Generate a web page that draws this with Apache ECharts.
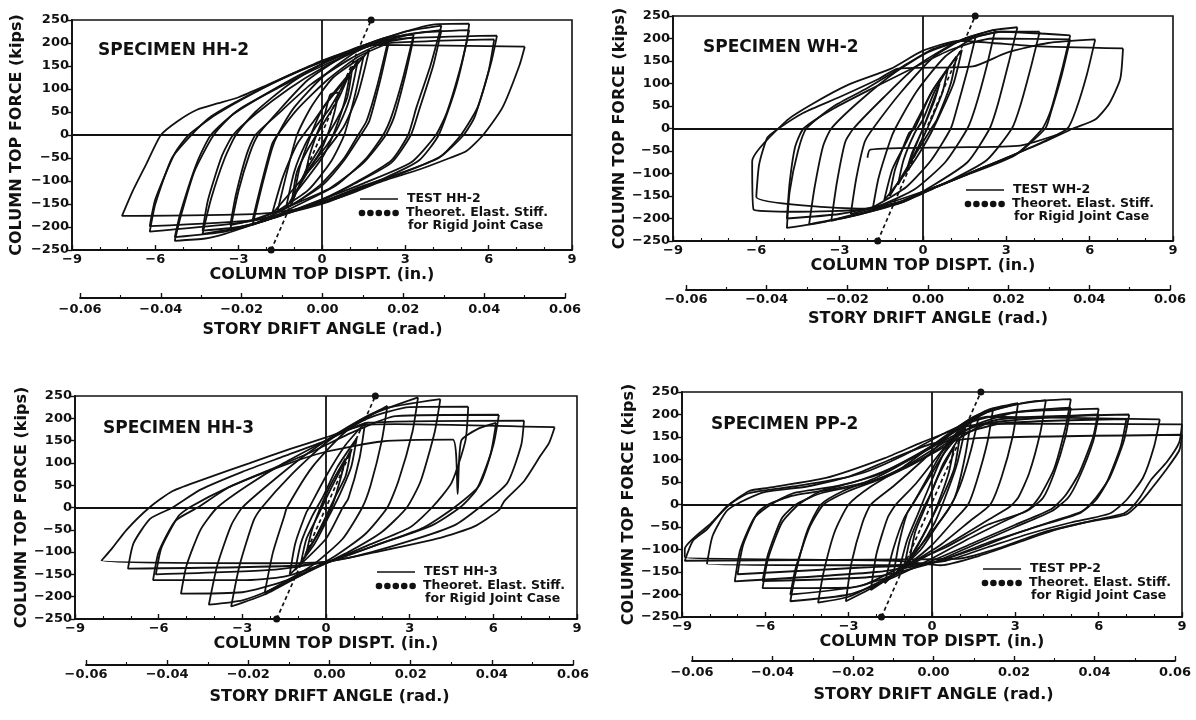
<!DOCTYPE html>
<html><head><meta charset="utf-8">
<script src="https://cdn.jsdelivr.net/npm/echarts@6/dist/echarts.min.js"></script>
<style>html,body{margin:0;padding:0;background:#fff}#c{width:1196px;height:720px}</style>
</head><body><div id="c"></div>
<script>
// ---------- DATA ----------
const disptTicks = [-9, -6, -3, 0, 3, 6, 9];
const disptLabels = ['−9', '−6', '−3', '0', '3', '6', '9'];
const forceTicks = [-250, -200, -150, -100, -50, 0, 50, 100, 150, 200, 250];
const forceLabels = ['−250', '−200', '−150', '−100', '−50', '0', '50', '100', '150', '200', '250'];
const driftTicks = [-0.06, -0.04, -0.02, 0, 0.02, 0.04, 0.06];
const driftLabels = ['−0.06', '−0.04', '−0.02', '0.00', '0.02', '0.04', '0.06'];
const specimens = ['HH-2', 'WH-2', 'HH-3', 'PP-2'];

const hh2Loops = [
 [[0.6,92],[0.45,50],[0.2,0],[-0.1,-40],[-0.6,-85],[-0.45,-45],[-0.2,0],[0.1,45],[0.3,88],[0.6,92]],
 [[1.0,130],[0.8,70],[0.4,0],[0.0,-50],[-1.0,-130],[-0.8,-70],[-0.4,0],[0.0,55],[1.0,130]],
 [[1.1,150],[0.9,80],[0.5,30],[0.0,-20],[-0.6,-80],[-1.1,-150],[-0.9,-80],[-0.5,-30],[0.0,20],[0.6,80],[1.1,150]],
 [[1.3,165],[1.0,80],[0.6,20],[0.2,-20],[-0.3,-60],[-1.3,-160],[-1.0,-80],[-0.6,-20],[-0.2,20],[0.3,60],[1.3,165]],
 [[1.5,172],[1.2,90],[0.8,0],[0.3,-60],[-0.5,-120],[-1.6,-165],[-1.3,-90],[-0.9,0],[-0.4,60],[0.4,125],[1.5,172]],
 [[1.7,185],[1.3,90],[0.8,20],[0.2,-30],[-0.5,-80],[-1.8,-172],[-1.4,-90],[-0.9,-20],[-0.3,30],[0.4,90],[1.7,185]],
 [[2.4,210],[2.0,110],[1.6,30],[1.3,0],[0.8,-50],[0.0,-105],[-1.0,-150],[-2.5,-195],[-2.2,-120],[-1.8,-30],[-1.6,0],[-1.0,60],[0.0,125],[1.2,180],[2.4,210]],
 [[2.4,200],[2.1,120],[1.7,30],[1.4,0],[0.8,-55],[0.0,-110],[-1.2,-155],[-2.5,-185],[-2.2,-110],[-1.8,-20],[-1.6,0],[-0.9,55],[0.2,120],[1.3,170],[2.4,200]],
 [[3.3,218],[2.9,120],[2.5,40],[2.2,0],[1.6,-50],[0.5,-110],[-0.8,-150],[-2.0,-185],[-3.3,-205],[-3.0,-120],[-2.6,-40],[-2.3,0],[-1.6,50],[-0.5,120],[1.0,180],[2.2,210],[3.3,218]],
 [[3.3,212],[3.0,130],[2.6,40],[2.3,0],[1.5,-60],[0.3,-115],[-1.0,-150],[-2.2,-180],[-3.3,-196],[-3.1,-130],[-2.7,-40],[-2.4,0],[-1.6,45],[-0.4,110],[1.0,165],[2.2,200],[3.3,212]],
 [[4.3,238],[3.9,150],[3.4,60],[3.1,0],[2.5,-55],[1.3,-100],[0.0,-140],[-1.5,-175],[-2.8,-200],[-4.3,-215],[-4.0,-140],[-3.5,-50],[-3.1,0],[-2.4,50],[-1.2,110],[0.0,155],[1.5,195],[3.0,225],[4.3,238]],
 [[4.3,228],[4.0,150],[3.5,55],[3.2,0],[2.5,-60],[1.2,-105],[0.0,-142],[-1.6,-178],[-3.0,-200],[-4.3,-208],[-4.1,-140],[-3.6,-45],[-3.2,0],[-2.4,45],[-1.2,100],[0.0,145],[1.5,190],[3.0,218],[4.3,228]],
 [[5.3,242],[5.2,200],[4.8,100],[4.2,0],[3.5,-55],[2.2,-95],[0.5,-135],[-1.0,-165],[-2.5,-195],[-3.5,-215],[-4.2,-225],[-5.3,-230],[-5.1,-180],[-4.6,-80],[-3.9,0],[-3.2,45],[-2.0,90],[-0.5,140],[1.0,180],[2.5,215],[4.0,240],[5.3,242]],
 [[5.3,228],[5.0,150],[4.5,50],[4.1,0],[3.2,-60],[1.5,-105],[0.0,-140],[-2.0,-185],[-3.5,-210],[-5.3,-222],[-5.1,-170],[-4.5,-60],[-4.0,0],[-3.0,55],[-1.5,105],[0.0,150],[2.0,200],[3.5,222],[5.3,228]],
 [[6.3,216],[6.1,160],[5.6,60],[5.0,0],[4.3,-45],[3.0,-80],[1.5,-110],[0.0,-145],[-2.0,-180],[-3.5,-195],[-6.2,-210],[-6.0,-150],[-5.4,-50],[-4.7,0],[-4.0,40],[-3.0,75],[-1.5,120],[0.0,160],[1.5,195],[3.0,210],[6.3,216]],
 [[6.2,208],[6.0,140],[5.5,40],[5.1,0],[4.2,-50],[2.5,-90],[0.0,-150],[-2.5,-185],[-6.2,-198],[-6.0,-140],[-5.3,-40],[-4.8,0],[-3.8,45],[-2.5,90],[-1.0,135],[0.5,170],[2.0,198],[6.2,208]],
 [[7.3,192],[7.1,150],[6.5,60],[5.8,0],[5.2,-35],[4.6,-50],[3.5,-75],[2.2,-100],[1.0,-128],[0.0,-148],[-1.0,-162],[-2.5,-172],[-7.2,-176],[-6.8,-120],[-6.3,-60],[-5.8,0],[-5.2,30],[-4.5,55],[-3.8,68],[-3.0,82],[-2.0,108],[-1.0,135],[0.0,162],[1.0,182],[2.0,196],[7.3,192]]
];

const wh2Loops = [
 [[0.6,100],[0.4,60],[0.0,0],[-0.3,-45],[-0.6,-95],[-0.4,-55],[0.0,0],[0.3,50],[0.6,100]],
 [[0.9,135],[0.7,80],[0.3,20],[0.0,-20],[-0.5,-80],[-0.9,-125],[-0.7,-70],[-0.3,-10],[0.0,20],[0.4,80],[0.9,135]],
 [[1.2,160],[1.0,100],[0.5,20],[0.3,0],[-0.4,-70],[-1.2,-150],[-1.0,-90],[-0.5,-10],[-0.3,0],[0.3,80],[1.2,160]],
 [[1.4,175],[1.1,100],[0.6,30],[0.2,-20],[-0.4,-80],[-1.4,-160],[-1.1,-90],[-0.6,-30],[-0.2,20],[0.4,90],[1.4,175]],
 [[1.9,205],[1.6,130],[1.2,40],[1.0,0],[0.3,-70],[-0.6,-130],[-1.8,-175],[-1.6,-110],[-1.2,-30],[-1.0,0],[-0.2,85],[0.8,160],[1.9,205]],
 [[2.6,220],[2.3,140],[1.9,50],[1.6,0],[0.8,-75],[-0.3,-135],[-1.5,-170],[-2.6,-190],[-2.4,-110],[-2.1,-30],[-1.8,0],[-0.8,80],[0.4,160],[1.5,200],[2.6,220]],
 [[3.4,225],[3.1,150],[2.7,55],[2.4,0],[1.6,-75],[0.4,-125],[-0.8,-165],[-2.2,-190],[-3.3,-205],[-3.1,-120],[-2.8,-30],[-2.5,0],[-1.4,70],[-0.2,140],[1.3,195],[2.5,218],[3.4,225]],
 [[4.2,215],[3.9,140],[3.5,50],[3.2,0],[2.3,-70],[1.0,-115],[0.0,-141],[-1.2,-172],[-2.6,-195],[-4.1,-213],[-3.9,-130],[-3.6,-40],[-3.3,0],[-2.3,60],[-1.0,125],[0.2,170],[1.5,197],[2.8,215],[4.2,215]],
 [[5.3,207],[5.0,130],[4.6,40],[4.3,0],[3.4,-55],[2.0,-91],[0.6,-127],[-0.7,-163],[-2.1,-185],[-3.5,-207],[-4.9,-221],[-4.8,-140],[-4.5,-50],[-4.2,0],[-3.2,50],[-2.0,90],[-0.8,135],[0.3,175],[1.5,197],[2.8,215],[5.3,207]],
 [[5.3,198],[5.0,120],[4.6,35],[4.4,0],[3.3,-60],[1.5,-105],[0.0,-140],[-1.5,-170],[-3.0,-190],[-4.9,-200],[-4.8,-120],[-4.6,-40],[-4.3,0],[-3.2,45],[-1.8,90],[-0.5,130],[1.0,175],[2.5,200],[5.3,198]],
 [[6.2,198],[5.9,120],[5.5,40],[5.2,0],[4.3,-30],[3.2,-60],[2.0,-91],[0.6,-127],[-0.7,-160],[-2.1,-178],[-6.0,-152],[-5.9,-80],[-5.6,-20],[-5.2,0],[-4.3,35],[-3.0,70],[-1.6,110],[-0.9,133],[1.8,138],[3.0,168],[4.5,190],[6.2,198]],
 [[7.2,178],[7.1,110],[6.7,55],[6.2,20],[5.4,0],[4.5,-26],[3.4,-55],[2.0,-91],[0.6,-127],[0.0,-141],[-0.7,-163],[-2.1,-180],[-4.5,-185],[-6.1,-180],[-6.15,-73],[-4.9,18],[-4.0,54],[-2.7,97],[-1.15,133],[0.0,173],[1.33,195],[2.5,190],[4.0,183],[7.2,178]],
 [[5.0,-10],[3.5,-38],[1.0,-42],[-1.9,-47],[-2.0,-65]]
];

const hh3Loops = [
 [[0.7,110],[0.5,60],[0.2,0],[-0.2,-50],[-0.7,-100],[-0.5,-50],[-0.2,0],[0.2,55],[0.7,110]],
 [[0.9,130],[0.7,70],[0.3,20],[0.0,-20],[-0.4,-70],[-0.9,-125],[-0.7,-70],[-0.3,-20],[0.0,20],[0.4,70],[0.9,130]],
 [[1.1,155],[0.9,90],[0.5,30],[0.1,-20],[-0.4,-80],[-1.1,-140],[-0.9,-80],[-0.5,-20],[-0.1,25],[0.4,90],[1.1,155]],
 [[1.4,190],[1.2,110],[0.8,20],[0.6,0],[0.0,-70],[-1.3,-150],[-1.1,-80],[-0.7,-10],[-0.6,0],[0.0,70],[0.7,140],[1.4,190]],
 [[2.2,228],[2.0,150],[1.6,50],[1.3,0],[0.6,-70],[-0.5,-130],[-2.2,-192],[-1.9,-100],[-1.5,-20],[-1.4,0],[-0.5,90],[0.7,170],[2.2,228]],
 [[3.3,247],[3.1,170],[2.6,60],[2.2,0],[1.4,-60],[0.3,-110],[-1.0,-155],[-2.2,-195],[-3.4,-222],[-3.1,-130],[-2.6,-30],[-2.3,0],[-1.3,70],[0.0,145],[1.5,205],[3.3,247]],
 [[4.1,243],[3.9,170],[3.4,60],[2.9,0],[2.0,-55],[0.8,-100],[-0.5,-140],[-2.0,-185],[-3.0,-208],[-4.2,-218],[-3.9,-130],[-3.4,-40],[-3.0,0],[-2.0,55],[-0.8,115],[0.5,170],[2.0,220],[4.1,243]],
 [[5.1,226],[5.0,150],[4.5,55],[3.8,0],[3.0,-45],[1.5,-85],[0.0,-125],[-1.5,-165],[-3.0,-190],[-5.2,-193],[-5.0,-130],[-4.5,-50],[-3.9,0],[-2.8,50],[-1.5,100],[0.0,150],[1.5,200],[3.0,225],[5.1,226]],
 [[6.2,208],[6.0,140],[5.5,50],[4.6,0],[3.5,-45],[2.0,-80],[0.0,-125],[-1.5,-155],[-3.0,-163],[-6.2,-163],[-6.0,-100],[-5.4,-30],[-4.6,0],[-3.5,45],[-2.0,85],[-0.5,125],[1.0,170],[2.5,205],[6.2,208]],
 [[6.1,190],[5.9,120],[5.4,40],[4.8,0],[3.8,-40],[2.0,-80],[0.0,-122],[-2.0,-140],[-6.1,-150],[-5.9,-90],[-5.3,-20],[-4.9,0],[-3.5,45],[-1.5,95],[0.0,125],[2.0,148],[4.55,152],[4.72,30],[4.85,150],[5.5,178],[6.1,190]],
 [[7.1,195],[7.0,140],[6.5,55],[5.5,0],[4.6,-40],[3.0,-75],[1.0,-110],[-1.0,-130],[-7.1,-137],[-6.9,-80],[-6.3,-25],[-5.5,0],[-4.5,40],[-3.0,80],[-1.5,115],[0.0,150],[1.5,190],[7.1,195]],
 [[8.2,180],[8.0,145],[7.7,117],[7.1,59],[6.4,15],[6.2,-6],[5.3,-43],[4.1,-68],[2.0,-97],[0.0,-122],[-2.0,-125],[-8.05,-119],[-7.7,-94],[-7.15,-50],[-6.33,0],[-5.5,37],[-4.27,66],[-2.76,99],[-1.25,132],[0.0,157],[1.36,185],[2.5,187],[8.2,180]]
];

const pp2Loops = [
 [[0.8,130],[0.6,70],[0.2,0],[-0.2,-55],[-0.8,-120],[-0.6,-60],[-0.2,0],[0.2,60],[0.8,130]],
 [[1.0,150],[0.8,80],[0.4,20],[0.0,-30],[-0.5,-90],[-1.0,-140],[-0.8,-80],[-0.4,-20],[0.0,30],[0.4,90],[1.0,150]],
 [[1.2,170],[0.9,90],[0.5,20],[0.1,-40],[-0.5,-100],[-1.2,-150],[-0.9,-80],[-0.5,-20],[-0.1,40],[0.4,110],[1.2,170]],
 [[1.4,185],[1.2,110],[0.9,30],[0.7,0],[0.2,-45],[-0.4,-100],[-1.4,-160],[-1.2,-90],[-0.9,-20],[-0.7,0],[-0.2,55],[0.4,120],[1.4,185]],
 [[1.7,200],[1.4,120],[1.0,40],[0.6,-10],[0.0,-60],[-0.8,-120],[-1.7,-175],[-1.4,-100],[-1.0,-30],[-0.6,10],[0.0,70],[0.8,150],[1.7,200]],
 [[2.2,213],[2.0,140],[1.6,50],[1.3,0],[0.8,-35],[0.0,-90],[-1.0,-140],[-2.2,-190],[-2.0,-110],[-1.6,-30],[-1.3,0],[-0.6,45],[0.3,115],[1.2,180],[2.2,213]],
 [[3.1,225],[2.9,150],[2.5,60],[2.1,0],[1.4,-35],[0.3,-90],[-1.0,-140],[-2.0,-180],[-3.1,-215],[-2.9,-130],[-2.5,-40],[-2.2,0],[-1.4,40],[-0.3,100],[1.0,175],[2.0,210],[3.1,225]],
 [[4.1,232],[3.9,160],[3.5,70],[3.1,15],[2.8,-5],[2.0,-35],[0.8,-80],[-0.5,-125],[-2.0,-175],[-3.0,-205],[-4.1,-218],[-3.9,-150],[-3.5,-60],[-3.0,0],[-2.2,40],[-1.0,85],[0.2,140],[1.5,195],[2.8,220],[4.1,232]],
 [[5.0,234],[4.8,170],[4.4,80],[3.9,20],[3.5,-10],[2.5,-40],[1.2,-80],[0.0,-120],[-1.5,-165],[-3.0,-200],[-5.1,-215],[-4.9,-150],[-4.5,-60],[-4.0,0],[-3.2,30],[-2.0,60],[-0.8,100],[0.5,150],[2.0,205],[3.5,228],[5.0,234]],
 [[5.0,215],[4.8,150],[4.4,70],[4.0,15],[3.4,-15],[2.0,-45],[0.5,-95],[-1.0,-135],[-2.5,-180],[-5.1,-200],[-4.9,-140],[-4.4,-50],[-3.9,0],[-3.0,30],[-1.5,65],[0.0,115],[1.5,175],[3.0,205],[5.0,215]],
 [[6.0,213],[5.8,150],[5.3,70],[4.8,20],[4.3,-10],[3.0,-45],[1.5,-85],[0.0,-125],[-1.5,-160],[-3.0,-185],[-6.1,-186],[-5.9,-120],[-5.4,-40],[-4.8,0],[-4.0,30],[-2.8,50],[-1.5,80],[0.0,130],[1.5,185],[3.0,205],[6.0,213]],
 [[6.0,200],[5.8,140],[5.3,60],[4.9,15],[4.3,-15],[3.0,-50],[1.5,-90],[0.0,-130],[-2.0,-160],[-6.1,-170],[-5.9,-110],[-5.4,-30],[-4.9,0],[-4.0,25],[-2.5,45],[-1.0,80],[0.5,130],[2.0,180],[6.0,200]],
 [[7.1,200],[6.9,140],[6.4,60],[5.9,15],[5.4,-15],[4.2,-40],[3.0,-65],[1.5,-100],[0.0,-130],[-2.0,-150],[-7.1,-171],[-6.9,-100],[-6.4,-30],[-5.8,0],[-5.0,25],[-3.5,40],[-2.0,65],[-0.5,110],[1.0,160],[2.5,190],[7.1,200]],
 [[7.0,190],[6.8,130],[6.3,50],[5.9,10],[5.3,-20],[4.0,-45],[2.0,-85],[0.0,-130],[-2.5,-140],[-7.0,-155],[-6.8,-90],[-6.3,-20],[-5.9,0],[-5.0,20],[-3.5,35],[-2.0,55],[-0.8,90],[0.8,150],[2.5,180],[7.0,190]],
 [[8.2,189],[8.0,130],[7.6,60],[7.0,10],[6.4,-20],[5.0,-40],[3.5,-65],[2.0,-95],[0.5,-125],[-1.5,-135],[-8.1,-132],[-7.9,-70],[-7.4,-15],[-6.9,5],[-6.0,28],[-4.5,40],[-2.5,70],[-1.0,110],[0.5,160],[2.0,195],[8.2,189]],
 [[9.0,178],[8.9,138],[8.46,95],[7.9,56],[7.49,16],[7.2,-6],[6.9,-20],[5.84,-35],[4.46,-56],[3.08,-85],[1.7,-114],[0.32,-135],[-1.3,-125],[-8.9,-117],[-8.9,-99],[-7.96,-42],[-7.27,1],[-6.58,30],[-5.9,37],[-3.82,59],[-1.75,102],[-0.37,138],[1.0,170],[2.0,180],[9.0,178]],
 [[9.0,155],[8.9,120],[8.4,75],[7.9,35],[7.5,5],[7.0,-22],[5.5,-40],[4.0,-62],[2.5,-95],[1.0,-120],[-1.0,-122],[-8.9,-125],[-8.6,-80],[-8.1,-55],[-7.4,-5],[-6.6,25],[-5.0,40],[-3.0,62],[-1.5,100],[0.0,135],[1.8,148],[9.0,155]]
];

const hh2Theory = [[-1.83, -250], [1.77, 250]];
const wh2Theory = [[-1.63, -250], [1.88, 250]];
const hh3Theory = [[-1.77, -250], [1.77, 250]];
const pp2Theory = [[-1.82, -250], [1.76, 250]];

// ---------- LAYOUT ----------
const FONT = "'DejaVu Sans', sans-serif";
const INK = '#111';
const panels = [
 {loops: hh2Loops, theory: hh2Theory, g: {left: 72, top: 20, width: 500, height: 230}, xGap: 16, yGap: 47,
  d: {left: 80, top: 297, width: 485}, dMargin: 5, dGap: 24, spec: [98, 51], leg: [360, 199]},
 {loops: wh2Loops, theory: wh2Theory, g: {left: 673, top: 16, width: 500, height: 225}, xGap: 15, yGap: 37,
  d: {left: 686, top: 289, width: 484}, dMargin: 3, dGap: 21, spec: [703, 48], leg: [966, 190]},
 {loops: hh3Loops, theory: hh3Theory, g: {left: 75, top: 396, width: 502, height: 223}, xGap: 13, yGap: 44,
  d: {left: 86, top: 664, width: 487}, dMargin: 3, dGap: 24, spec: [103, 429], leg: [377, 572]},
 {loops: pp2Loops, theory: pp2Theory, g: {left: 682, top: 392, width: 500, height: 225}, xGap: 13, yGap: 42,
  d: {left: 692, top: 660, width: 483}, dMargin: 5, dGap: 26, spec: [711, 425], leg: [983, 569]}
];

const lab = {color: INK, fontSize: 13, fontWeight: 'bold', fontFamily: FONT};
const ttl = {color: INK, fontSize: 16, fontWeight: 'bold', fontFamily: FONT};
const option = {animation: false, backgroundColor: '#fff', grid: [], xAxis: [], yAxis: [], series: [], graphic: []};

panels.forEach((p, i) => {
  const gi = i * 2, di = i * 2 + 1;
  option.grid.push(Object.assign({show: true, borderColor: INK, borderWidth: 1.6, backgroundColor: 'transparent'}, p.g));
  option.grid.push({left: p.d.left, top: p.d.top, width: p.d.width, height: 1, show: false});
  option.xAxis.push({
    gridIndex: gi, type: 'value', min: -9, max: 9, interval: 3, position: 'bottom',
    axisLine: {show: true, onZero: false, lineStyle: {color: INK, width: 1.8}},
    axisTick: {show: true, inside: true, length: 5, lineStyle: {color: INK, width: 1.4}},
    minorTick: {show: true, splitNumber: 3, length: 3, lineStyle: {color: INK, width: 1.1}},
    splitLine: {show: false},
    axisLabel: Object.assign({margin: 3, formatter: v => disptLabels[disptTicks.indexOf(Math.round(v))]}, lab),
    name: 'COLUMN TOP DISPT. (in.)', nameLocation: 'middle', nameGap: p.xGap, nameTextStyle: ttl
  });
  option.yAxis.push({
    gridIndex: gi, type: 'value', min: -250, max: 250, interval: 50,
    axisLine: {show: true, onZero: false, lineStyle: {color: INK, width: 1.8}},
    axisTick: {show: true, inside: false, length: 4, lineStyle: {color: INK, width: 1.4}},
    splitLine: {show: false},
    axisLabel: Object.assign({margin: 3, formatter: v => forceLabels[forceTicks.indexOf(Math.round(v))]}, lab),
    name: 'COLUMN TOP FORCE (kips)', nameLocation: 'middle', nameRotate: 90, nameGap: p.yGap, nameTextStyle: ttl
  });
  option.xAxis.push({
    gridIndex: di, type: 'value', min: -0.06, max: 0.06, interval: 0.02, position: 'bottom',
    axisLine: {show: true, onZero: false, lineStyle: {color: INK, width: 1.8}},
    axisTick: {show: true, inside: true, length: 5, lineStyle: {color: INK, width: 1.4}},
    minorTick: {show: true, splitNumber: 2, length: 3, lineStyle: {color: INK, width: 1.1}},
    splitLine: {show: false},
    axisLabel: Object.assign({margin: p.dMargin, formatter: v => driftLabels[Math.round((v + 0.06) / 0.02)]}, lab),
    name: 'STORY DRIFT ANGLE (rad.)', nameLocation: 'middle', nameGap: p.dGap, nameTextStyle: ttl
  });
  option.yAxis.push({gridIndex: di, type: 'value', min: 0, max: 1, show: false});

  p.loops.forEach(loop => {
    option.series.push({
      type: 'line', xAxisIndex: gi, yAxisIndex: gi, data: loop, symbol: 'none', showSymbol: false,
      smooth: 0.2, silent: true, lineStyle: {color: INK, width: 1.8}, z: 3
    });
  });
  option.series.push({
    type: 'line', xAxisIndex: gi, yAxisIndex: gi, data: p.theory, symbol: 'circle', symbolSize: 7,
    showSymbol: true, clip: false, silent: true, itemStyle: {color: INK},
    lineStyle: {color: INK, width: 1.7, type: [4, 3]}, z: 2,
    markLine: {silent: true, symbol: ['none', 'none'], label: {show: false}, animation: false,
      lineStyle: {color: INK, type: 'solid', width: 1.8}, data: [{yAxis: 0}, {xAxis: 0}]}
  });

  // specimen label
  option.graphic.push({type: 'text', x: p.spec[0], y: p.spec[1],
    style: {text: 'SPECIMEN ' + specimens[i], fill: INK, font: 'bold 17px ' + FONT, verticalAlign: 'middle'}});
  // legend
  const lx = p.leg[0], ly = p.leg[1];
  const lf = 'bold 12.5px ' + FONT;
  option.graphic.push({type: 'line', shape: {x1: lx, y1: ly, x2: lx + 38, y2: ly}, style: {stroke: INK, lineWidth: 1.6}});
  option.graphic.push({type: 'text', x: lx + 47, y: ly, style: {text: 'TEST ' + specimens[i], fill: INK, font: lf, verticalAlign: 'middle'}});
  for (let k = 0; k < 5; k++) {
    option.graphic.push({type: 'circle', shape: {cx: lx + 2 + k * 8.4, cy: ly + 14, r: 3.3}, style: {fill: INK}});
  }
  option.graphic.push({type: 'text', x: lx + 46, y: ly + 14, style: {text: 'Theoret. Elast. Stiff.', fill: INK, font: lf, verticalAlign: 'middle'}});
  option.graphic.push({type: 'text', x: lx + 48, y: ly + 27, style: {text: 'for Rigid Joint Case', fill: INK, font: lf, verticalAlign: 'middle'}});
});

const chart = echarts.init(document.getElementById('c'), null, {renderer: 'canvas'});
chart.setOption(option);
</script>
</body></html>
